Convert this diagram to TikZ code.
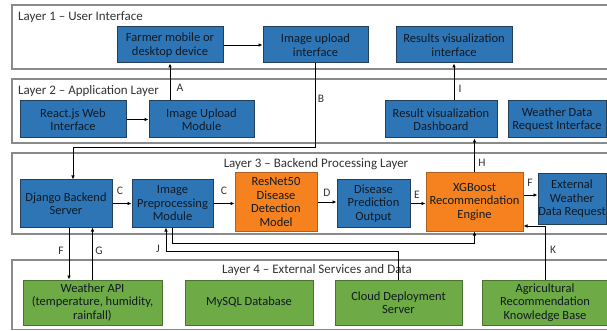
\documentclass[tikz,border=0pt]{standalone}
\usepackage{fontspec}
\setmainfont{Carlito}
\usetikzlibrary{arrows.meta}
\definecolor{bluefill}{HTML}{2E75B6}
\definecolor{blueline}{HTML}{22405E}
\definecolor{orangefill}{HTML}{F5821F}
\definecolor{orangeline}{HTML}{B0601E}
\definecolor{greenfill}{HTML}{6EAA45}
\definecolor{greenline}{HTML}{4A7330}
\definecolor{layerline}{HTML}{8A8A8A}
\definecolor{txt}{HTML}{111A24}
\tikzset{
  layerframe/.style={draw=layerline, line width=1.3pt},
  layerlabel/.style={font=\fontsize{13}{14}\selectfont, text=black!80, inner sep=0pt},
  boxbase/.style={rectangle, line width=1pt, inner sep=0pt, align=center,
                  font=\fontsize{12.5}{13.5}\selectfont, text=txt},
  bluebox/.style={boxbase, fill=bluefill, draw=blueline},
  orangebox/.style={boxbase, fill=orangefill, draw=orangeline},
  greenbox/.style={boxbase, fill=greenfill, draw=greenline},
  sz/.style 2 args={minimum width=#1pt, minimum height=#2pt},
  arr/.style={draw=black, line width=0.8pt, -{Latex[length=4pt,width=3.6pt]}},
  tag/.style={font=\fontsize{11.5}{13}\selectfont, text=black!80, inner sep=0pt}
}
\begin{document}
\begin{tikzpicture}[x=1pt,y=-1pt]
\useasboundingbox (0,0) rectangle (607,331);
\fill[white] (0,0) rectangle (607,331);

% layer frames
\draw[layerframe] (607,5) -- (12,5) -- (12,69) -- (607,69);
\draw[layerframe] (607,79) -- (12,79) -- (12,143) -- (607,143);
\draw[layerframe] (607,153) -- (12,153) -- (12,234) -- (607,234);
\draw[layerframe] (607,260) -- (12,260) -- (12,329.5) -- (607,329.5);

\node[layerlabel, anchor=west] (l1) at (18,17) {Layer 1 – User Interface};
\node[layerlabel, anchor=west] (l2) at (18,91) {Layer 2 – Application Layer};
\node[layerlabel] (l3) at (316,164) {Layer 3 – Backend Processing Layer};
\node[layerlabel] (l4) at (317,270) {Layer 4 – External Services and Data};

% Layer 1
\node[bluebox, sz={106}{36}] (farmer) at (170,45) {Farmer mobile or\\desktop device};
\node[bluebox, sz={105}{36}] (imgui) at (315.5,45) {Image upload\\interface};
\node[bluebox, sz={116}{36}] (resui) at (454,45) {Results visualization\\interface};

% Layer 2
\node[bluebox, sz={106}{37}] (react) at (73,119.5) {React.js Web\\Interface};
\node[bluebox, sz={105}{37}] (upload) at (201.5,119.5) {Image Upload\\Module};
\node[bluebox, sz={112}{37}] (dash) at (441,119.5) {Result visualization\\Dashboard};
\node[bluebox, sz={98}{37}] (wreq) at (557,119.5) {Weather Data\\Request Interface};

% Layer 3
\node[bluebox, sz={92}{47}] (django) at (66,203.5) {Django Backend\\Server};
\node[bluebox, sz={81}{47}] (prep) at (172.5,203.5) {Image\\Preprocessing\\Module};
\node[orangebox, sz={82}{58}] (resnet) at (276,202) {ResNet50\\Disease\\Detection\\Model};
\node[bluebox, sz={73}{47}] (dpo) at (373.5,203.5) {Disease\\Prediction\\Output};
\node[orangebox, sz={97}{58}] (xgb) at (474.5,202) {XGBoost\\Recommendation\\Engine};
\node[bluebox, sz={68}{50}] (extw) at (572,199) {External\\Weather\\Data Request};

% Layer 4
\node[greenbox, sz={139}{45}] (wapi) at (92.5,302.5) {Weather API\\(temperature, humidity,\\rainfall)};
\node[greenbox, sz={128}{45}] (mysql) at (249,302.5) {MySQL Database};
\node[greenbox, sz={127}{45}] (cloud) at (398.5,302.5) {Cloud Deployment\\Server};
\node[greenbox, sz={126}{45}] (agri) at (545,302.5) {Agricultural\\Recommendation\\Knowledge Base};

% helper coordinates
\coordinate (bturn) at (73,147);
\coordinate (fx) at (69,0);
\coordinate (jy1) at (0,243);
\coordinate (jturn) at (166,251);
\coordinate (ky) at (0,226);
\coordinate (fy) at (0,195);

% connectors
\draw[arr] (farmer.east) -- (imgui.west);
\draw[arr] (react.east) -- (upload.west);
\draw[arr] (farmer.south |- upload.north) -- (farmer.south);
\draw[arr] (imgui.south) |- (bturn) -- (bturn |- django.north);
\draw[arr] (django.east) -- (prep.west);
\draw[arr] (prep.east) -- (prep.east -| resnet.west);
\draw[arr] (resnet.east) -- (resnet.east -| dpo.west);
\draw[arr] (dpo.east) -- (dpo.east -| xgb.west);
\draw[arr] (xgb.east |- fy) -- (extw.west |- fy);
\draw[arr] (agri.north) -- (agri.north |- ky) -- (xgb.east |- ky);
\draw[arr] (xgb.north) -- (xgb.north |- dash.south);
\draw[arr] (resui.south |- dash.north) -- (resui.south);
\draw[arr] (fx |- django.south) -- (fx |- wapi.north);
\draw[arr] (wapi.north) -- (wapi.north |- django.south);
\draw[arr] (prep.south) -- (prep.south |- jy1) -- (xgb.south |- jy1) -- (xgb.south);
\draw[arr] (cloud.north) -- (cloud.north |- jturn) -- (jturn) -- (jturn |- prep.south);

% connector labels
\node[tag] (tA) at (180,88) {A};
\node[tag] (tB) at (321,99) {B};
\node[tag] (tC1) at (120,191) {C};
\node[tag] (tC2) at (224,191) {C};
\node[tag] (tD) at (327,193) {D};
\node[tag] (tE) at (417,195) {E};
\node[tag] (tF1) at (530,183) {F};
\node[tag] (tH) at (482,163) {H};
\node[tag] (tI) at (460,89) {I};
\node[tag] (tF2) at (61,251) {F};
\node[tag] (tG) at (99,251) {G};
\node[tag] (tJ) at (158,249) {J};
\node[tag] (tK) at (553,250) {K};
\end{tikzpicture}
\end{document}
